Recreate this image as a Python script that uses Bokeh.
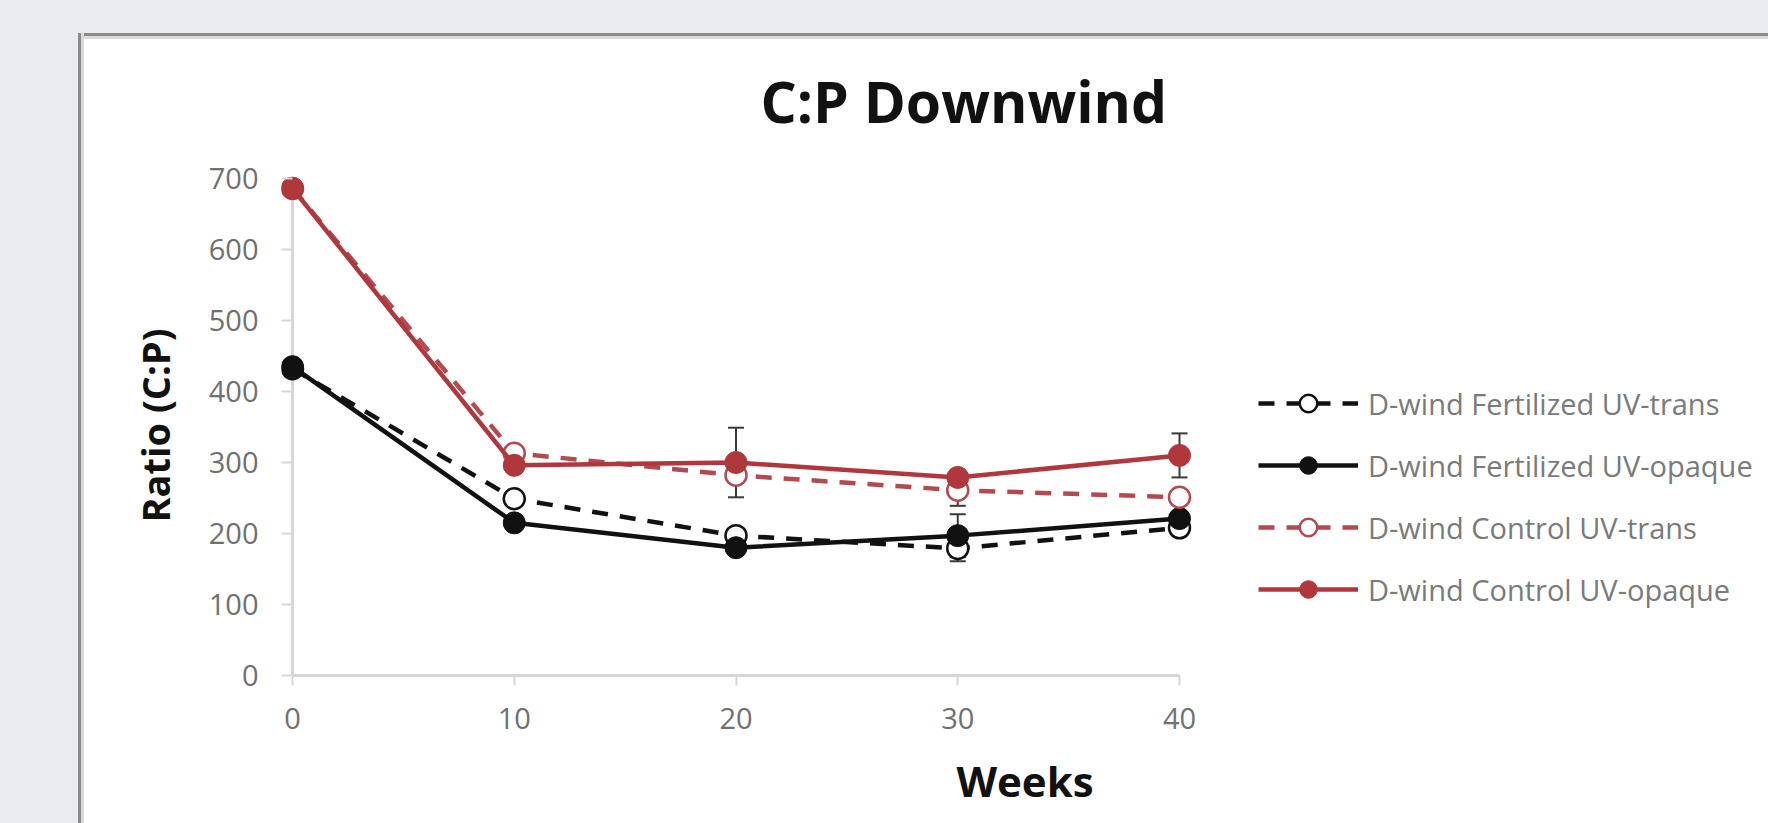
from bokeh.plotting import figure
from bokeh.models import (Range1d, Whisker, ColumnDataSource, Legend, LegendItem,
                          TeeHead, FixedTicker, LinearAxis)
from bokeh.embed import file_html
from bokeh.resources import INLINE

# ---------------- data ----------------
weeks = [0, 10, 20, 30, 40]
fert_trans = [432, 249, 197, 179, 208]
fert_opaque = [435, 215, 180, 197, 221]
ctrl_trans = [686, 313, 282, 261, 251]
ctrl_opaque = [686, 296, 300, 279, 310]

fert_trans_err = [0, 0, 0, 18, 0]
fert_opaque_err = [0, 0, 0, 30, 0]
ctrl_trans_err = [0, 0, 0, 22, 0]
ctrl_opaque_err = [0, 0, 49, 0, 31]

series_labels = ["D-wind Fertilized UV-trans", "D-wind Fertilized UV-opaque",
                 "D-wind Control UV-trans", "D-wind Control UV-opaque"]
x_ticks = [0, 10, 20, 30, 40]
y_ticks = [0, 100, 200, 300, 400, 500, 600, 700]

title_text = "C:P Downwind"
x_label = "Weeks"
y_label = "Ratio (C:P)"

# ---------------- styling / layout ----------------
BLACK = "#111111"
RED = "#b0373b"
RED_DASH = "#b24a50"
ERR = "#3a3a3a"
AXIS = "#d6d6d6"
TICKTXT = "#707070"
FONT = "Open Sans"

W, H = 1768, 823            # canvas size (page origin at 0,0)
BL, BT = 281, 175           # left / top borders of the canvas
BB = H - 675                # bottom border so that ratio 0 sits at y = 675
PX_PER_X = 887 / 40.0       # pixels per week
PX_PER_Y = 497 / 700.0      # pixels per ratio unit
x0 = -11 / PX_PER_X
x1 = x0 + (W - BL) / PX_PER_X
y1 = (H - BB - BT) / PX_PER_Y

# grey page band + chart-area box edge (top and left), drawn as CSS background
bg = ("linear-gradient(to right, #e9ebef 0px, #e9ebef 78px, #8a8a8a 78px, #8a8a8a 81px, "
      "#dadada 81px, #dadada 84px, rgba(255,255,255,0) 84px) 0px 33px / 100% 100% no-repeat, "
      "linear-gradient(to bottom, #e9ebef 0px, #e9ebef 33px, #8a8a8a 33px, #8a8a8a 36px, "
      "#dadada 36px, #dadada 39px, #ffffff 39px)")

p = figure(width=W, height=H,
           x_range=Range1d(x0, x1), y_range=Range1d(0, y1),
           output_backend="svg", toolbar_location=None,
           x_axis_location=None, y_axis_location=None,
           min_border_left=BL, min_border_right=0,
           min_border_top=BT, min_border_bottom=BB,
           margin=(0, 0, 0, 0),
           styles={"background": bg})
p.outline_line_color = None
p.background_fill_color = "white"
p.border_fill_alpha = 0
p.xgrid.visible = False
p.ygrid.visible = False

# axes
xaxis = LinearAxis(bounds=(x_ticks[0], x_ticks[-1]), ticker=FixedTicker(ticks=x_ticks))
yaxis = LinearAxis(bounds=(y_ticks[0], y_ticks[-1]), ticker=FixedTicker(ticks=y_ticks))
for ax in (xaxis, yaxis):
    ax.axis_line_color = AXIS
    ax.axis_line_width = 3
    ax.major_tick_line_color = AXIS
    ax.major_tick_line_width = 2
    ax.minor_tick_line_color = None
    ax.major_label_text_font = FONT
    ax.major_label_text_font_size = "29px"
    ax.major_label_text_color = TICKTXT
    ax.axis_label_text_font = FONT
    ax.axis_label_text_font_style = "bold"
    ax.axis_label_text_color = "#111111"
xaxis.major_tick_in = 0
xaxis.major_tick_out = 10
xaxis.major_label_standoff = 22
xaxis.axis_label = x_label
xaxis.axis_label_text_font_size = "42px"
xaxis.axis_label_standoff = 20
yaxis.axis_line_color = None
yaxis.major_tick_in = 11
yaxis.major_tick_out = 0
yaxis.major_label_standoff = 23
yaxis.axis_label = y_label
yaxis.axis_label_text_font_size = "38px"
yaxis.axis_label_standoff = 25
p.add_layout(xaxis, "below")
p.add_layout(yaxis, "left")

# vertical axis line at week 0
p.segment(x0=[x_ticks[0]], y0=[y_ticks[0]], x1=[x_ticks[0]], y1=[y_ticks[-1]],
          line_color=AXIS, line_width=3)

# title
p.title.text = title_text
p.title.text_font = FONT
p.title.text_font_size = "57px"
p.title.text_font_style = "bold"
p.title.text_color = "#111111"
p.title.align = "left"
p.title.offset = 479
p.title.standoff = 72

series = [
    (fert_trans, fert_trans_err, BLACK, "dashed", False),
    (fert_opaque, fert_opaque_err, BLACK, "solid", True),
    (ctrl_trans, ctrl_trans_err, RED_DASH, "dashed", False),
    (ctrl_opaque, ctrl_opaque_err, RED, "solid", True),
]

items = []
for (vals, errs, color, style, filled), label in zip(series, series_labels):
    ex = [w for w, e in zip(weeks, errs) if e > 0]
    if ex:
        up = [v + e for v, e in zip(vals, errs) if e > 0]
        lo = [v - e for v, e in zip(vals, errs) if e > 0]
        wsrc = ColumnDataSource(dict(x=ex, upper=up, lower=lo))
        wk = Whisker(source=wsrc, base="x", upper="upper", lower="lower",
                     line_color=ERR, line_width=2,
                     upper_head=TeeHead(size=16, line_color=ERR, line_width=2),
                     lower_head=TeeHead(size=16, line_color=ERR, line_width=2))
        p.add_layout(wk)
    src = ColumnDataSource(dict(x=weeks, y=vals))
    lr = p.line("x", "y", source=src, line_color=color, line_width=4.5,
                line_dash="16 12" if style == "dashed" else "solid")
    if filled:
        sr = p.scatter("x", "y", source=src, size=22, marker="circle",
                       fill_color=color, line_color=color, line_width=1)
    else:
        sr = p.scatter("x", "y", source=src, size=21, marker="circle",
                       fill_color="white", line_color=color, line_width=2.5)
    items.append(LegendItem(label=label, renderers=[lr, sr]))

legend = Legend(items=items, location=(977, 64), orientation="vertical",
                glyph_width=100, glyph_height=44, label_height=44, spacing=18,
                label_standoff=10, padding=0, margin=0,
                border_line_color=None, background_fill_alpha=0,
                label_text_font=FONT, label_text_font_size="29px",
                label_text_color="#7a7a7a")
p.add_layout(legend, "center")

html = file_html(p, INLINE)
html = html.replace("<html", '<html style="overflow:hidden; background:#ffffff"', 1)
html = html.replace("<body>", '<body style="margin:0; overflow:hidden; background:#ffffff">')
open("out.html", "w").write(html)
